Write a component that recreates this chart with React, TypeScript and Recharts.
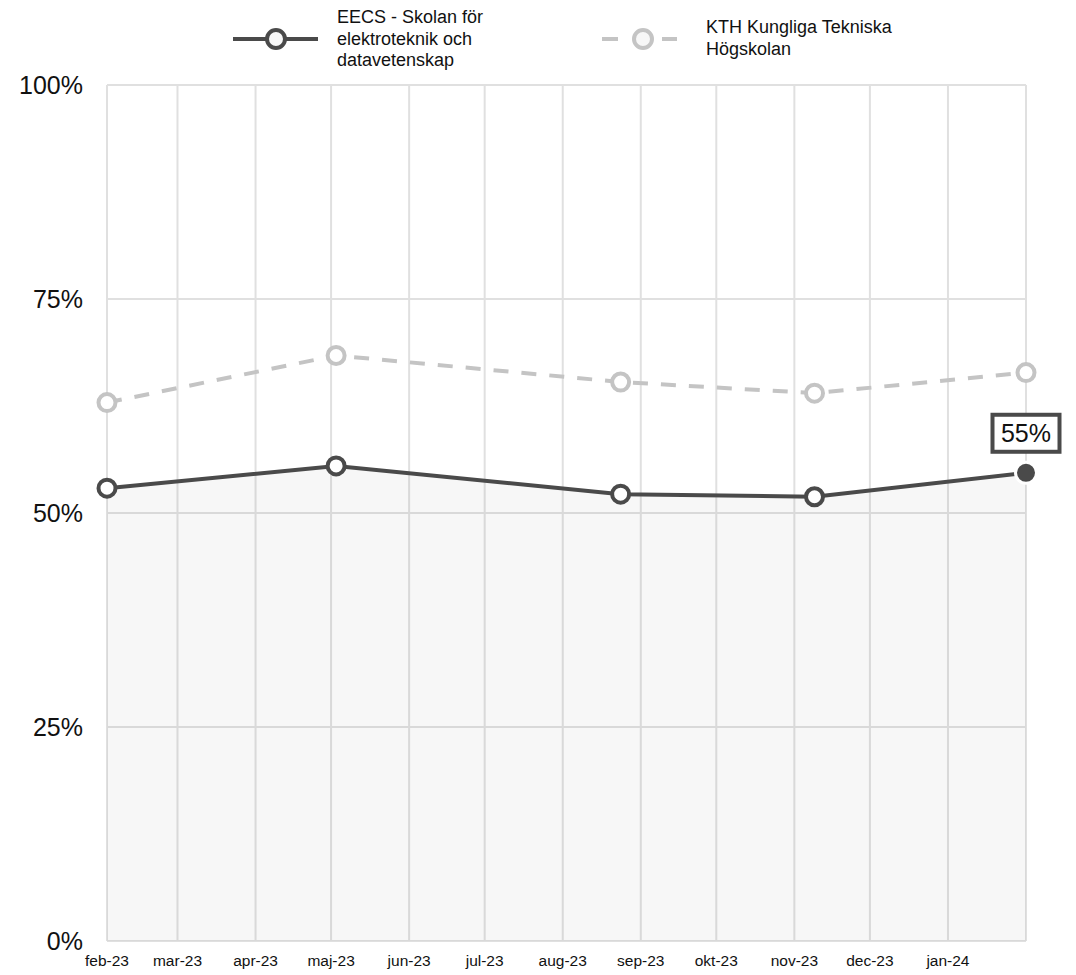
import React from 'react';
import {
  ComposedChart,
  Line,
  Area,
  XAxis,
  YAxis,
  CartesianGrid,
  Legend,
} from 'recharts';

// ---- data ----
const pointDates = ['2023-02-01', '2023-05-03', '2023-08-24', '2023-11-09', '2024-02-01'];
const eecsValues = [52.9, 55.5, 52.2, 51.9, 54.7];
const kthValues = [62.9, 68.4, 65.3, 64.0, 66.4];

const monthTickDates = [
  '2023-02-01', '2023-03-01', '2023-04-01', '2023-05-01', '2023-06-01', '2023-07-01',
  '2023-08-01', '2023-09-01', '2023-10-01', '2023-11-01', '2023-12-01', '2024-01-01', '2024-02-01',
];
const monthTickLabels = [
  'feb-23', 'mar-23', 'apr-23', 'maj-23', 'jun-23', 'jul-23',
  'aug-23', 'sep-23', 'okt-23', 'nov-23', 'dec-23', 'jan-24', '',
];
const yTicks = [0, 25, 50, 75, 100];

const eecsName = 'EECS - Skolan för elektroteknik och datavetenskap';
const eecsLegendLines = ['EECS - Skolan för', 'elektroteknik och', 'datavetenskap'];
const kthName = 'KTH Kungliga Tekniska Högskolan';
const kthLegendLines = ['KTH Kungliga Tekniska', 'Högskolan'];

const toTs = (d: string) => new Date(d + 'T00:00:00Z').getTime();
const xTicks = monthTickDates.map(toTs);
const tickLabelMap: Record<number, string> = {};
xTicks.forEach((t, i) => (tickLabelMap[t] = monthTickLabels[i]));

const data = pointDates.map((d, i) => ({
  t: toTs(d),
  eecs: eecsValues[i],
  kth: kthValues[i],
}));

const DARK = '#4a4a4a';
const LIGHT = '#c4c4c4';
const GRID = '#e0e0e0';
const FONT = '"Liberation Sans", Arial, sans-serif';
const lastIdx = data.length - 1;

const eecsDot = (props: any) => {
  const { cx, cy, index } = props;
  if (cx == null || cy == null) return <g key={`ed-${index}`} />;
  if (index === lastIdx) {
    return (
      <circle key={`ed-${index}`} cx={cx} cy={cy} r={10.5} fill={DARK} stroke="#ffffff" strokeWidth={3} />
    );
  }
  return (
    <circle key={`ed-${index}`} cx={cx} cy={cy} r={8.5} fill="#ffffff" stroke={DARK} strokeWidth={4} />
  );
};

const kthDot = (props: any) => {
  const { cx, cy, index } = props;
  if (cx == null || cy == null) return <g key={`kd-${index}`} />;
  return (
    <circle key={`kd-${index}`} cx={cx} cy={cy} r={8.5} fill="#ffffff" stroke={LIGHT} strokeWidth={4} />
  );
};

const lastLabel = (props: any) => {
  const { x, y, index, value } = props;
  if (index !== lastIdx || x == null || y == null) return null;
  return (
    <g key="last-label">
      <rect x={x - 33.5} y={y - 58} width={67} height={37} fill="#ffffff" stroke={DARK} strokeWidth={4} />
      <text
        x={x}
        y={y - 39.5}
        textAnchor="middle"
        dominantBaseline="central"
        fontSize={25}
        fontFamily={FONT}
        fill="#111"
      >
        {`${Math.round(Number(value))}%`}
      </text>
    </g>
  );
};

const LegendContent = () => (
  <div style={{ position: 'relative', width: 1076, height: 0, fontFamily: FONT }}>
    <svg style={{ position: 'absolute', left: 0, top: 0, overflow: 'visible' }} width={1076} height={80}>
      <line x1={233} x2={318} y1={39} y2={39} stroke={DARK} strokeWidth={4} />
      <circle cx={276} cy={39} r={9} fill="#f7f7f7" stroke={DARK} strokeWidth={4} />
      <line x1={602} x2={618} y1={39} y2={39} stroke={LIGHT} strokeWidth={4} />
      <line x1={662} x2={677} y1={39} y2={39} stroke={LIGHT} strokeWidth={4} />
      <circle cx={643} cy={39} r={9} fill="#f7f7f7" stroke={LIGHT} strokeWidth={4} />
    </svg>
    <div
      title={eecsName}
      style={{ position: 'absolute', left: 337, top: 7, fontSize: 18, lineHeight: '21.5px', color: '#111', whiteSpace: 'nowrap' }}
    >
      {eecsLegendLines.map((l) => (
        <div key={l}>{l}</div>
      ))}
    </div>
    <div
      title={kthName}
      style={{ position: 'absolute', left: 706, top: 17, fontSize: 18, lineHeight: '21.5px', color: '#111', whiteSpace: 'nowrap' }}
    >
      {kthLegendLines.map((l) => (
        <div key={l}>{l}</div>
      ))}
    </div>
  </div>
);

export default function App() {
  return (
    <div style={{ position: 'absolute', left: 0, top: 0, width: 1076, height: 975, background: '#fff' }}>
      <ComposedChart
        width={1076}
        height={975}
        data={data}
        margin={{ top: 85, right: 50, bottom: 4, left: 0 }}
      >
        <CartesianGrid stroke={GRID} strokeWidth={2} />
        <XAxis
          dataKey="t"
          type="number"
          scale="time"
          domain={[xTicks[0], xTicks[xTicks.length - 1]]}
          ticks={xTicks}
          tickFormatter={(v: number) => tickLabelMap[v] ?? ''}
          axisLine={false}
          tickLine={false}
          tickSize={6}
          tickMargin={8}
          height={30}
          interval={0}
          tick={{ fontSize: 15.5, fill: '#111', fontFamily: FONT }}
        />
        <YAxis
          type="number"
          domain={[0, 100]}
          ticks={yTicks}
          tickFormatter={(v: number) => `${v}%`}
          axisLine={false}
          tickLine={false}
          tickSize={6}
          tickMargin={18}
          width={107}
          interval={0}
          tick={{ fontSize: 25, fill: '#111', fontFamily: FONT }}
        />
        <Legend content={<LegendContent />} wrapperStyle={{ left: 0, top: 0, width: 1076, height: 0 }} />
        <Area
          dataKey="eecs"
          type="linear"
          stroke="none"
          fill="#000000"
          fillOpacity={0.032}
          isAnimationActive={false}
          legendType="none"
          dot={false}
          activeDot={false}
        />
        <Line
          dataKey="kth"
          name={kthName}
          type="linear"
          stroke={LIGHT}
          strokeWidth={4}
          strokeDasharray="15 13"
          dot={kthDot}
          activeDot={false}
          isAnimationActive={false}
        />
        <Line
          dataKey="eecs"
          name={eecsName}
          type="linear"
          stroke={DARK}
          strokeWidth={4}
          dot={eecsDot}
          activeDot={false}
          label={lastLabel}
          isAnimationActive={false}
        />
      </ComposedChart>
    </div>
  );
}
